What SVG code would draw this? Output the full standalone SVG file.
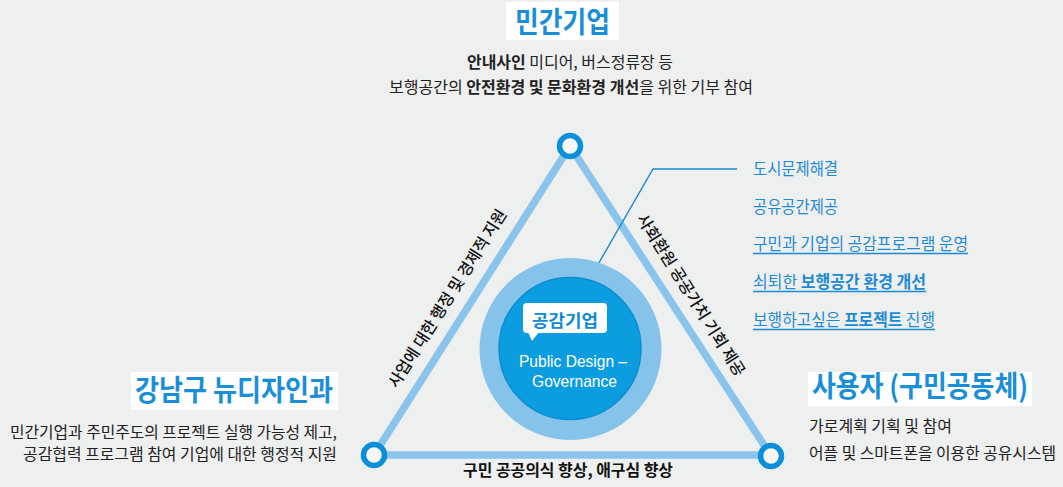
<svg xmlns="http://www.w3.org/2000/svg" width="1063" height="487" viewBox="0 0 1063 487">
<style>
.kr{font-family:"Noto Sans CJK KR","Noto Sans",sans-serif;}
.title{font-size:29px;font-weight:700;fill:#1a8fd8;}
.body{font-size:16px;fill:#222;}
.b{font-weight:700;}
.list{font-size:16.5px;fill:#1f8ad4;}
.side{font-size:16px;font-weight:500;fill:#111;}
.edge{stroke:#8bc4ea;stroke-width:7.5;fill:none;}
.vertex{fill:#f7f7f8;stroke:#0a8fd8;stroke-width:5.5;}
.ul{stroke:#1f8ad4;stroke-width:1.3;}
</style>
<rect x="0" y="0" width="1063" height="487" fill="#eeefef"/>

<g id="connectors">
  <line class="edge" x1="374" y1="455" x2="570" y2="146"/>
  <line class="edge" x1="570" y1="146" x2="771" y2="456"/>
  <line class="edge" x1="374" y1="455" x2="771" y2="455"/>
  <polyline points="589,280 653,169 737,169" fill="none" stroke="#1a8ad4" stroke-width="1.4"/>
  <text class="kr side" text-anchor="middle" transform="translate(447.5,298.5) rotate(-57.8)" dy="5.5" textLength="207" lengthAdjust="spacingAndGlyphs">사업에 대한 행정 및 경제적 지원</text>
  <text class="kr side" text-anchor="middle" transform="translate(691,295) rotate(57.8)" dy="5.5" textLength="188" lengthAdjust="spacingAndGlyphs">사회환원 공공가치 기회 제공</text>
  <text class="kr b" x="568" y="476" font-size="15.5" fill="#111" text-anchor="middle" textLength="210" lengthAdjust="spacingAndGlyphs">구민 공공의식 향상, 애구심 향상</text>
</g>

<g id="node-top">
  <rect x="506" y="2" width="113" height="38" fill="#ffffff"/>
  <text class="kr title" x="562.5" y="33" text-anchor="middle" textLength="95" lengthAdjust="spacingAndGlyphs">민간기업</text>
  <text class="kr body" x="570" y="68" text-anchor="middle" textLength="206" lengthAdjust="spacingAndGlyphs"><tspan class="b">안내사인</tspan> 미디어, 버스정류장 등</text>
  <text class="kr body" x="571" y="93" text-anchor="middle" textLength="364" lengthAdjust="spacingAndGlyphs">보행공간의 <tspan class="b">안전환경 및 문화환경 개선</tspan>을 위한 기부 참여</text>
  <circle class="vertex" cx="570" cy="146" r="10.5"/>
</g>

<g id="node-left">
  <rect x="131" y="372" width="207" height="38" fill="#ffffff"/>
  <text class="kr title" x="234" y="401" text-anchor="middle" textLength="198" lengthAdjust="spacingAndGlyphs">강남구 뉴디자인과</text>
  <text class="kr body" x="337" y="438" text-anchor="end" textLength="327" lengthAdjust="spacingAndGlyphs">민간기업과 주민주도의 프로젝트 실행 가능성 제고,</text>
  <text class="kr body" x="337" y="460" text-anchor="end" textLength="314" lengthAdjust="spacingAndGlyphs">공감협력 프로그램 참여 기업에 대한 행정적 지원</text>
  <circle class="vertex" cx="374" cy="455" r="10.5"/>
</g>

<g id="node-right">
  <rect x="808" y="372" width="224" height="34" fill="#ffffff"/>
  <text class="kr title" x="812" y="397" textLength="216" lengthAdjust="spacingAndGlyphs">사용자 (구민공동체)</text>
  <text class="kr body" x="809" y="432" textLength="143" lengthAdjust="spacingAndGlyphs">가로계획 기획 및 참여</text>
  <text class="kr body" x="809" y="459" textLength="247" lengthAdjust="spacingAndGlyphs">어플 및 스마트폰을 이용한 공유시스템</text>
  <circle class="vertex" cx="771" cy="456" r="10.5"/>
</g>

<g id="node-center">
  <circle cx="570.5" cy="349" r="91" fill="#86c3ea"/>
  <circle cx="570" cy="348.5" r="71" fill="#0b9de0" stroke="#0c8cd0" stroke-width="1.5"/>
  <rect x="523" y="303" width="84" height="30" rx="4" fill="#ffffff"/>
  <polygon points="528,332 539,332 532,341" fill="#ffffff"/>
  <text class="kr b" x="565" y="327" font-size="17.5" fill="#0f8ad4" text-anchor="middle" textLength="66" lengthAdjust="spacingAndGlyphs">공감기업</text>
  <text x="573" y="367" font-family="'Liberation Sans',Arial,sans-serif" font-size="17" fill="#ffffff" text-anchor="middle" textLength="108" lengthAdjust="spacingAndGlyphs">Public Design –</text>
  <text x="574.5" y="387" font-family="'Liberation Sans',Arial,sans-serif" font-size="17" fill="#ffffff" text-anchor="middle" textLength="85" lengthAdjust="spacingAndGlyphs">Governance</text>
</g>

<g id="node-list">
  <text class="kr list" x="753" y="175" textLength="85" lengthAdjust="spacingAndGlyphs">도시문제해결</text>
  <text class="kr list" x="753" y="213" textLength="85" lengthAdjust="spacingAndGlyphs">공유공간제공</text>
  <text class="kr list" x="753" y="250" textLength="215" lengthAdjust="spacingAndGlyphs">구민과 기업의 공감프로그램 운영</text>
  <line class="ul" x1="753" y1="253.5" x2="968" y2="253.5"/>
  <text class="kr list" x="753" y="288" textLength="173" lengthAdjust="spacingAndGlyphs">쇠퇴한 <tspan class="b">보행공간 환경 개선</tspan></text>
  <line class="ul" x1="753" y1="291.5" x2="926" y2="291.5"/>
  <text class="kr list" x="753" y="326" textLength="182" lengthAdjust="spacingAndGlyphs">보행하고싶은 <tspan class="b">프로젝트</tspan> 진행</text>
  <line class="ul" x1="753" y1="329.5" x2="935" y2="329.5"/>
</g>
</svg>
